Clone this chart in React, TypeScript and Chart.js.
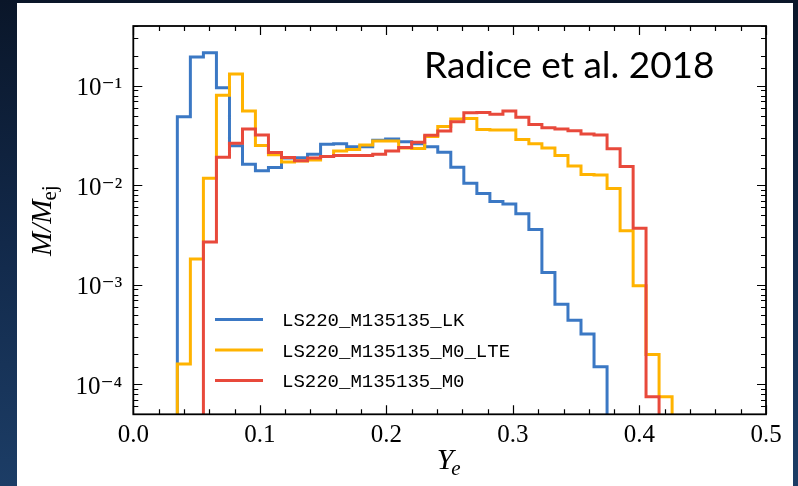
import React, { useEffect, useRef } from 'react';
import { Chart, registerables } from 'chart.js';

Chart.register(...registerables);

// Histogram bin edges in Y_e (shared by all runs)
const binEdges = [
  0.0348, 0.0451, 0.0554, 0.0657, 0.076, 0.0863, 0.0965, 0.1068, 0.1171, 0.1274,
  0.1377, 0.148, 0.1583, 0.1686, 0.1789, 0.1892, 0.1994, 0.2097, 0.22, 0.2303,
  0.2406, 0.2509, 0.2612, 0.2715, 0.2818, 0.2921, 0.3023, 0.3126, 0.3229, 0.3332,
  0.3435, 0.3538, 0.3641, 0.3744, 0.3847, 0.395, 0.4052, 0.4155, 0.4258,
];

// M/M_ej per bin
const lkFirstBin = 0;
const lkValues = [
  0.049, 0.195, 0.215, 0.096, 0.025, 0.0163, 0.014, 0.0151, 0.0188, 0.019,
  0.0206, 0.0259, 0.0262, 0.0245, 0.0245, 0.0285, 0.0292, 0.0275, 0.0262, 0.0245,
  0.0215, 0.0152, 0.0105, 0.0083, 0.0069, 0.0065, 0.0052, 0.0036, 0.00133, 0.00064,
  0.00044, 0.00032, 0.00015,
];

const lteFirstBin = 0;
const lteValues = [
  0.00016, 0.00182, 0.0118, 0.0807, 0.132, 0.0558, 0.0251, 0.0203, 0.0172, 0.0176,
  0.018, 0.0195, 0.0222, 0.023, 0.0255, 0.0279, 0.0279, 0.0237, 0.0235, 0.031,
  0.039, 0.0464, 0.047, 0.0365, 0.036, 0.036, 0.029, 0.0262, 0.0237, 0.02,
  0.0157, 0.0129, 0.0127, 0.0093, 0.0035, 0.00098, 0.0002, 0.000075,
];

const m0FirstBin = 2;
const m0Values = [
  0.0027, 0.0192, 0.0265, 0.0369, 0.0321, 0.0214, 0.0191, 0.0177, 0.0188, 0.0195,
  0.02, 0.02, 0.02, 0.0205, 0.0222, 0.024, 0.0272, 0.032, 0.0352, 0.0437,
  0.0538, 0.054, 0.052, 0.0558, 0.0485, 0.041, 0.038, 0.0369, 0.0355, 0.0329,
  0.0321, 0.0233, 0.0155, 0.0037, 0.000075,
];

const seriesLabels = ['LS220_M135135_LK', 'LS220_M135135_M0_LTE', 'LS220_M135135_M0'];
const seriesColors = ['#3b78c4', '#ffb300', '#e8493b'];

const xMin = 0;
const xMax = 0.5;
const xMajorStep = 0.1;
const xMinorStep = 0.02;
const yMin = 5e-5;
const yMax = 0.4;
const FLOOR = 1e-7; // histogram drops to zero (below the log axis)

const annotationText = 'Radice et al. 2018';

const SUP: Record<string, string> = {
  '-': '\u207B', '0': '\u2070', '1': '\u00B9', '2': '\u00B2', '3': '\u00B3',
  '4': '\u2074', '5': '\u2075', '6': '\u2076', '7': '\u2077', '8': '\u2078', '9': '\u2079',
};

function isDecade(v: number) {
  const l = Math.log10(v);
  return Math.abs(l - Math.round(l)) < 1e-6;
}

function stepPoints(values: number[], firstBin: number) {
  const pts: { x: number; y: number }[] = [{ x: binEdges[firstBin], y: FLOOR }];
  values.forEach((v, i) => pts.push({ x: binEdges[firstBin + i], y: v }));
  pts.push({ x: binEdges[firstBin + values.length], y: FLOOR });
  return pts;
}

const SERIF = '"Liberation Serif", "DejaVu Serif", serif';

const decorPlugin = {
  id: 'decor',
  afterDraw(chart: any) {
    const { ctx, chartArea: a, scales } = chart;
    const xs = scales.x;
    const ys = scales.y;
    ctx.save();
    ctx.strokeStyle = '#000';
    // inward ticks on all four sides
    ctx.lineWidth = 1.2;
    const nMinor = Math.round((xMax - xMin) / xMinorStep);
    for (let i = 0; i <= nMinor; i++) {
      const v = xMin + i * xMinorStep;
      const major = Math.abs(v / xMajorStep - Math.round(v / xMajorStep)) < 1e-6;
      const len = major ? 9 : 5;
      const px = Math.round(xs.getPixelForValue(v)) + 0.5;
      ctx.beginPath();
      ctx.moveTo(px, a.bottom);
      ctx.lineTo(px, a.bottom - len);
      ctx.moveTo(px, a.top);
      ctx.lineTo(px, a.top + len);
      ctx.stroke();
    }
    ys.ticks.forEach((t: any) => {
      const major = isDecade(t.value);
      const len = major ? 9 : 5;
      const py = Math.round(ys.getPixelForValue(t.value)) + 0.5;
      ctx.beginPath();
      ctx.moveTo(a.left, py);
      ctx.lineTo(a.left + len, py);
      ctx.moveTo(a.right, py);
      ctx.lineTo(a.right - len, py);
      ctx.stroke();
    });
    // frame
    ctx.lineWidth = 1.8;
    ctx.strokeRect(a.left, a.top, a.right - a.left, a.bottom - a.top);

    // x title: Y_e
    ctx.fillStyle = '#000';
    ctx.textBaseline = 'alphabetic';
    ctx.textAlign = 'left';
    const cx = (a.left + a.right) / 2;
    ctx.font = 'italic 30px ' + SERIF;
    const wY = ctx.measureText('Y').width;
    ctx.font = 'italic 21px ' + SERIF;
    const we = ctx.measureText('e').width;
    const x0 = cx - (wY + we) / 2;
    ctx.font = 'italic 30px ' + SERIF;
    ctx.fillText('Y', x0, 469);
    ctx.font = 'italic 21px ' + SERIF;
    ctx.fillText('e', x0 + wY - 2, 475);

    // y title: M/M_ej (rotated)
    const cy = (a.top + a.bottom) / 2;
    ctx.save();
    ctx.translate(51, cy);
    ctx.rotate(-Math.PI / 2);
    ctx.font = 'italic 29px ' + SERIF;
    const wM = ctx.measureText('M/M').width;
    ctx.font = '21px ' + SERIF;
    const wej = ctx.measureText('ej').width;
    const sx = -(wM + wej) / 2;
    ctx.font = 'italic 29px ' + SERIF;
    ctx.fillText('M/M', sx, 0);
    ctx.font = '21px ' + SERIF;
    ctx.fillText('ej', sx + wM - 1, 5);
    ctx.restore();

    // legend
    const rows = [319.5, 350, 380.5];
    chart.data.datasets.forEach((ds: any, i: number) => {
      const yy = rows[i];
      ctx.strokeStyle = ds.borderColor;
      ctx.lineWidth = 3;
      ctx.beginPath();
      ctx.moveTo(215, yy);
      ctx.lineTo(263, yy);
      ctx.stroke();
      ctx.fillStyle = '#000';
      ctx.font = '19px "Liberation Mono", "DejaVu Sans Mono", monospace';
      ctx.textBaseline = 'middle';
      ctx.fillText(ds.label, 282, yy + 1.5);
    });

    // annotation
    ctx.textBaseline = 'alphabetic';
    ctx.fillStyle = '#000';
    ctx.font = '37px Lato, "Open Sans", sans-serif';
    ctx.fillText(annotationText, 424, 78);
    ctx.restore();
  },
};

export default function App() {
  const ref = useRef<HTMLCanvasElement>(null);

  useEffect(() => {
    const canvas = ref.current;
    if (!canvas) return;
    const tickFont = { family: SERIF, size: 25 };
    const data = [
      { values: lkValues, first: lkFirstBin },
      { values: lteValues, first: lteFirstBin },
      { values: m0Values, first: m0FirstBin },
    ];
    const chart = new Chart(canvas, {
      type: 'line',
      data: {
        datasets: data.map((d, i) => ({
          label: seriesLabels[i],
          data: stepPoints(d.values, d.first),
          borderColor: seriesColors[i],
          backgroundColor: seriesColors[i],
          borderWidth: 3,
          pointRadius: 0,
          stepped: 'before' as const,
          fill: false,
          order: 2 - i,
        })),
      },
      options: {
        responsive: false,
        devicePixelRatio: 1,
        animation: false,
        events: [],
        layout: { padding: { left: 20, right: 32, top: 23.5, bottom: 0 } },
        plugins: { legend: { display: false }, tooltip: { enabled: false } },
        scales: {
          x: {
            type: 'linear',
            min: xMin,
            max: xMax,
            afterFit: (s: any) => { s.height = 71.7; },
            grid: { display: false, drawTicks: false },
            border: { display: false },
            ticks: {
              stepSize: xMajorStep,
              autoSkip: false,
              maxRotation: 0,
              padding: 6,
              color: '#000',
              font: tickFont,
              callback: (v: any) => Number(v).toFixed(1),
            },
          },
          y: {
            type: 'logarithmic',
            min: yMin,
            max: yMax,
            afterFit: (s: any) => { s.width = 113.3; },
            grid: { display: false, drawTicks: false },
            border: { display: false },
            ticks: {
              autoSkip: false,
              padding: 11,
              labelOffset: 3,
              color: '#000',
              font: tickFont,
              callback: (v: any) => {
                const n = Number(v);
                if (!isDecade(n)) return '';
                const e = String(Math.round(Math.log10(n)));
                return '10' + e.split('').map((c) => SUP[c] || c).join('');
              },
            },
          },
        },
      },
      plugins: [decorPlugin],
    } as any);
    return () => chart.destroy();
  }, []);

  return (
    <div
      style={{
        position: 'fixed',
        left: 0,
        top: 0,
        width: 798,
        height: 486,
        overflow: 'hidden',
        background: 'linear-gradient(180deg, #0a1629 0%, #12294a 50%, #1c3d66 100%)',
      }}
    >
      <div style={{ position: 'absolute', left: 17, top: 3, width: 776, height: 483, background: '#ffffff' }} />
      <canvas
        ref={ref}
        width={798}
        height={486}
        style={{ position: 'absolute', left: 0, top: 0, width: 798, height: 486 }}
      />
    </div>
  );
}
